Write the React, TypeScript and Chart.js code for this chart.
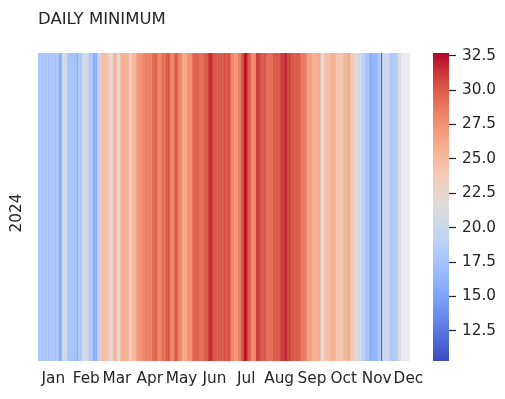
import React, { useEffect, useRef } from "react";
import { Chart, registerables } from "chart.js";

Chart.register(...registerables);

// ---- data (daily minimum temperature, 2024) ----
const YEAR = 2024;
const monthNames = ["Jan", "Feb", "Mar", "Apr", "May", "Jun", "Jul", "Aug", "Sep", "Oct", "Nov", "Dec"];
const colorbarTicks = [12.5, 15.0, 17.5, 20.0, 22.5, 25.0, 27.5, 30.0, 32.5];

const jan = [18.2, 17.6, 18.4, 17.9, 17.3, 18.5, 18.0, 17.4, 18.6, 17.8, 17.2, 18.3, 18.8, 17.5, 17.9, 18.4, 17.1, 18.2, 18.7, 17.6, 16.2, 15.8, 16.4, 20.3, 20.8, 20.5, 21.0, 20.2, 18.1, 17.4, 17.8];
const feb = [17.3, 17.9, 17.5, 18.0, 17.2, 17.7, 15.9, 18.1, 18.4, 17.8, 18.2, 20.4, 20.9, 20.6, 21.2, 20.3, 20.7, 18.3, 17.9, 18.5, 18.0, 16.1, 15.7, 16.3, 16.0, 19.2, 18.8, 19.5, 23.4];
const mar = [24.3, 24.8, 24.5, 25.0, 24.2, 24.7, 24.4, 22.1, 22.6, 21.9, 22.3, 25.1, 24.8, 25.4, 24.9, 22.4, 21.8, 22.2, 25.6, 25.2, 25.9, 25.4, 26.0, 25.3, 25.7, 25.5, 23.6, 23.3, 23.8, 25.1, 24.9];
const apr = [25.3, 25.0, 26.8, 27.2, 26.9, 27.4, 27.0, 27.3, 28.1, 27.8, 28.4, 28.0, 28.3, 27.9, 28.5, 28.2, 28.0, 29.6, 29.3, 29.8, 29.5, 29.2, 28.1, 27.8, 28.3, 27.9, 29.0, 29.3, 28.8, 29.1];
const may = [30.1, 29.8, 30.3, 30.0, 28.2, 27.9, 28.4, 28.0, 30.2, 29.9, 30.4, 28.1, 28.3, 27.8, 28.5, 26.2, 25.8, 26.4, 26.0, 26.3, 27.6, 27.3, 27.8, 27.4, 27.7, 29.6, 29.3, 29.8, 29.4, 29.7, 29.5];
const jun = [29.1, 28.8, 29.3, 28.9, 29.2, 30.1, 29.8, 30.3, 30.0, 31.4, 31.8, 31.2, 31.6, 30.2, 29.9, 30.4, 30.0, 29.7, 30.3, 30.1, 29.6, 30.5, 29.8, 30.2, 31.0, 29.5, 30.3, 29.9, 30.6, 30.1];
const jul = [28.1, 27.8, 28.3, 27.0, 26.8, 27.3, 27.1, 28.6, 28.3, 28.8, 30.2, 30.5, 31.0, 32.7, 32.1, 31.5, 30.1, 29.8, 30.3, 28.0, 27.7, 28.2, 27.9, 28.1, 31.0, 31.3, 30.8, 31.1, 30.0, 30.3, 29.8];
const aug = [30.0, 30.3, 29.8, 29.1, 28.8, 29.3, 28.9, 29.2, 29.0, 30.1, 30.4, 29.8, 30.2, 30.5, 29.9, 30.3, 31.0, 31.3, 30.9, 31.2, 31.4, 32.3, 30.8, 30.5, 31.2, 30.6, 30.2, 30.0, 30.4, 29.8, 30.1];
const sep = [30.2, 29.8, 30.1, 29.6, 28.7, 28.4, 28.9, 28.3, 28.6, 28.2, 26.6, 26.3, 26.8, 26.4, 26.5, 25.6, 25.3, 25.8, 25.4, 25.7, 26.1, 25.9, 26.2, 21.4, 21.8, 21.2, 24.6, 24.3, 24.8, 24.5];
const oct = [24.4, 24.7, 25.6, 25.3, 25.8, 25.4, 25.7, 24.1, 23.8, 24.3, 23.9, 24.2, 24.0, 23.7, 25.1, 24.8, 25.3, 24.9, 26.1, 25.8, 26.3, 23.6, 23.3, 23.8, 23.4, 22.1, 21.8, 22.3, 20.6, 20.3, 20.8];
const nov = [20.4, 19.1, 18.8, 19.3, 17.6, 17.3, 17.8, 17.4, 16.1, 15.8, 16.2, 16.6, 16.3, 16.8, 16.4, 16.7, 18.1, 17.9, 18.3, 11.2, 19.8, 20.2, 19.9, 20.6, 20.3, 20.8, 20.4, 18.1, 17.8, 18.3];
const dec = [18.2, 17.9, 18.6, 18.4, 18.8, 21.6, 21.3, null, null, null, null, null, null, null, null, null];

const monthly: (number | null)[][] = [jan, feb, mar, apr, may, jun, jul, aug, sep, oct, nov, dec];

const VMIN = 10.3;
const VMAX = 32.7;

const COOLWARM = ["#3b4cc0", "#5977e3", "#7b9ff9", "#9ebeff", "#c0d4f5", "#dddcdc", "#f2cbb7", "#f7ac8e", "#ee8468", "#d65244", "#b40426"];

function hexToRgb(h: string) {
  return [parseInt(h.slice(1, 3), 16), parseInt(h.slice(3, 5), 16), parseInt(h.slice(5, 7), 16)];
}
const STOPS = COOLWARM.map(hexToRgb);

function coolwarm(v: number) {
  let t = (v - VMIN) / (VMAX - VMIN);
  t = Math.max(0, Math.min(1, t));
  const p = t * (STOPS.length - 1);
  const i = Math.min(STOPS.length - 2, Math.floor(p));
  const f = p - i;
  const a = STOPS[i], b = STOPS[i + 1];
  const c = a.map((x, k) => Math.round(x + (b[k] - x) * f));
  return `rgb(${c[0]},${c[1]},${c[2]})`;
}

const FONT = '"DejaVu Sans", "Liberation Sans", sans-serif';
const TEXT = "#262626";

export default function App() {
  const mainRef = useRef<HTMLCanvasElement>(null);
  const cbRef = useRef<HTMLCanvasElement>(null);

  useEffect(() => {
    const labels: string[] = [];
    const days: number[] = [];
    const months: number[] = [];
    const values: (number | null)[] = [];
    monthly.forEach((arr, m) => {
      arr.forEach((v, d) => {
        labels.push(`${YEAR}-${String(m + 1).padStart(2, "0")}-${String(d + 1).padStart(2, "0")}`);
        days.push(d + 1);
        months.push(m);
        values.push(v);
      });
    });

    const bgPlugin = {
      id: "axbg",
      beforeDatasetsDraw(chart: any) {
        const { ctx, chartArea } = chart;
        ctx.save();
        ctx.fillStyle = "#EAEAF2";
        ctx.fillRect(chartArea.left, chartArea.top, chartArea.right - chartArea.left, chartArea.bottom - chartArea.top);
        ctx.restore();
      },
      afterDraw(chart: any) {
        const { ctx, chartArea } = chart;
        ctx.save();
        ctx.font = `16.5px ${FONT}`;
        ctx.fillStyle = TEXT;
        ctx.textBaseline = "alphabetic";
        ctx.textAlign = "left";
        ctx.fillText("DAILY MINIMUM", chartArea.left, 24);
        // row label, rotated
        ctx.font = `15.3px ${FONT}`;
        ctx.translate(17, (chartArea.top + chartArea.bottom) / 2 + 6);
        ctx.rotate(-Math.PI / 2);
        ctx.textAlign = "center";
        ctx.textBaseline = "middle";
        ctx.fillText(String(YEAR), 0, 0);
        ctx.restore();
      },
    };

    const main = new Chart(mainRef.current!, {
      type: "bar",
      data: {
        labels,
        datasets: [
          {
            data: values.map((v) => (v == null ? null : [0, 1])) as any,
            backgroundColor: values.map((v) => (v == null ? "rgba(0,0,0,0)" : coolwarm(v))),
            borderWidth: 0,
            barPercentage: 1,
            categoryPercentage: 1,
          },
        ],
      },
      options: {
        animation: false,
        responsive: false,
        layout: { padding: { top: 53, right: 95, left: 0, bottom: 0 } },
        plugins: { legend: { display: false }, tooltip: { enabled: false }, title: { display: false } },
        scales: {
          x: {
            type: "category",
            grid: { display: false, drawTicks: false },
            border: { display: false },
            ticks: {
              autoSkip: false,
              maxRotation: 0,
              minRotation: 0,
              padding: 9,
              color: TEXT,
              font: { family: FONT, size: 15.3 },
              callback: (_v: any, i: number) => (days[i] === 15 ? monthNames[months[i]] : ""),
            },
            afterFit: (s: any) => {
              s.height = 38;
            },
          },
          y: {
            type: "linear",
            min: 0,
            max: 1,
            grid: { display: false, drawTicks: false },
            border: { display: false },
            ticks: { display: false },
            afterFit: (s: any) => {
              s.width = 38;
            },
          },
        },
      },
      plugins: [bgPlugin],
    });

    const gradPlugin = {
      id: "grad",
      beforeDatasetsDraw(chart: any) {
        const { ctx, chartArea } = chart;
        const g = ctx.createLinearGradient(0, chartArea.bottom, 0, chartArea.top);
        COOLWARM.forEach((c, i) => g.addColorStop(i / (COOLWARM.length - 1), c));
        ctx.save();
        ctx.fillStyle = g;
        ctx.fillRect(chartArea.left, chartArea.top, chartArea.right - chartArea.left, chartArea.bottom - chartArea.top);
        ctx.restore();
      },
    };

    const cb = new Chart(cbRef.current!, {
      type: "scatter",
      data: { datasets: [{ data: [] }] },
      options: {
        animation: false,
        responsive: false,
        layout: { padding: { top: 53, bottom: 38, left: 13, right: 0 } },
        plugins: { legend: { display: false }, tooltip: { enabled: false } },
        scales: {
          x: { display: false, min: 0, max: 1 },
          y: {
            position: "right",
            min: VMIN,
            max: VMAX,
            border: { display: false },
            grid: { display: true, drawOnChartArea: false, drawTicks: true, tickLength: 7, tickColor: TEXT, tickWidth: 1.25 },
            ticks: {
              padding: 6,
              color: TEXT,
              font: { family: FONT, size: 15.3 },
              callback: (v: any) => Number(v).toFixed(1),
            },
            afterBuildTicks: (s: any) => {
              s.ticks = colorbarTicks.map((v) => ({ value: v }));
            },
            afterFit: (s: any) => {
              s.width = 56;
            },
          },
        },
      },
      plugins: [gradPlugin],
    });

    return () => {
      main.destroy();
      cb.destroy();
    };
  }, []);

  return (
    <div style={{ position: "absolute", left: 0, top: 0, width: 505, height: 399, background: "#fff" }}>
      <canvas ref={mainRef} width={505} height={399} style={{ position: "absolute", left: 0, top: 0, width: 505, height: 399 }} />
      <canvas ref={cbRef} width={85} height={399} style={{ position: "absolute", left: 420, top: 0, width: 85, height: 399 }} />
    </div>
  );
}
